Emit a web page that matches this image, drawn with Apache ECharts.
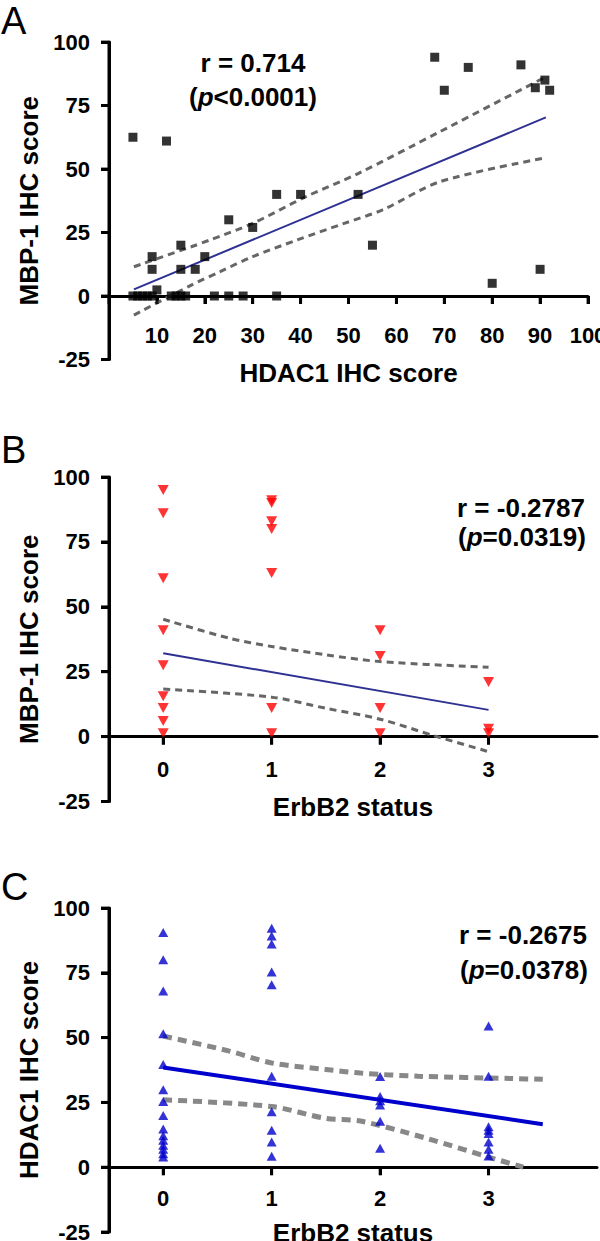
<!DOCTYPE html>
<html><head><meta charset="utf-8">
<script src="https://cdn.jsdelivr.net/npm/echarts@6/dist/echarts.min.js"></script>
<style>html,body{margin:0;padding:0;background:#fff}#c{width:600px;height:1241px}</style>
</head><body><div id="c"></div>
<script>
// ---------- Panel A: HDAC1 vs MBP-1 ----------
const aHdac1 = [68, 70, 75, 86, 91, 89, 92, 5, 12, 35, 40, 52, 25, 30, 15, 55, 9, 20, 9, 15, 18, 80, 90, 10,
                5, 6, 7, 8, 9, 13, 14, 15, 16, 22, 25, 28, 35];
const aMbp1  = [94, 81, 90, 91, 85, 82, 81, 62.5, 61, 40, 40, 40, 30, 27, 20, 20, 15.5, 15.5, 10.5, 10.5, 10.5, 5, 10.5, 2.4,
                0, 0, 0, 0, 0, 0, 0, 0, 0, 0, 0, 0, 0];
const aFitX = [5.2, 91.2];
const aFitY = [2.6, 70.3];
const aUpperX = [5.2, 17.2, 21, 30, 41.1, 52.1, 69.1, 90.6];
const aUpperY = [11.5, 19.4, 22, 28.6, 39.1, 48.3, 64.7, 85.7];
const aLowerX = [5.2, 17.2, 23.2, 30, 39.2, 49.1, 57.1, 69.1, 90.6];
const aLowerY = [-7.5, 4.3, 9.6, 15.5, 22, 28.6, 33.9, 45, 54.2];
const aXTicks = [0, 10, 20, 30, 40, 50, 60, 70, 80, 90, 100];

// ---------- Panel B: ErbB2 vs MBP-1 ----------
const bErb  = [0, 0, 0, 0, 0, 0, 0, 0, 0, 1, 1, 1, 1, 1, 1, 1, 2, 2, 2, 2, 3, 3, 3];
const bMbp1 = [95, 86, 61, 41, 27.5, 15.5, 11, 6, 1.3, 91, 90, 83, 80, 63, 11, 1.3, 41, 31, 11, 1.3, 21, 3, 1.3];
const bFitX = [0, 3];
const bFitY = [32.1, 10.3];
const bUpperX = [0, 0.61, 1, 1.5, 2, 3];
const bUpperY = [45.2, 37.9, 34.7, 31.5, 28.9, 26.7];
const bLowerX = [0, 1, 1.5, 2, 2.5, 3];
const bLowerY = [18.3, 15.2, 10.9, 6.7, 0.3, -5.8];

// ---------- Panel C: ErbB2 vs HDAC1 ----------
const cErb   = [0, 0, 0, 0, 0, 0, 0, 0, 0, 0, 0, 0, 0, 0, 0,
                1, 1, 1, 1, 1, 1, 1, 1, 1, 1,
                2, 2, 2, 2, 2, 2,
                3, 3, 3, 3, 3, 3, 3, 3];
const cHdac1 = [90.5, 80, 68, 51.5, 39.6, 29.9, 25.3, 19.9, 14.7, 12.1, 10.4, 8.5, 6.9, 5.2, 3.9,
                92.2, 89.2, 86.1, 75.3, 70.4, 35.1, 21.4, 14.3, 9.7, 4.2,
                35, 27.3, 25.6, 24, 17.7, 7.3,
                54.5, 35.1, 15.6, 14.3, 13, 9.7, 6.9, 4.3];
const cFitX = [0, 3.5];
const cFitY = [38.5, 16.6];
const cUpperX = [0, 0.61, 1, 1.5, 1.82, 2.35, 3.22, 3.5];
const cUpperY = [50.6, 44.8, 40.2, 37.7, 36.3, 35.1, 34.2, 33.9];
const cLowerX = [0, 1, 1.5, 1.82, 2.44, 3, 3.32];
const cLowerY = [26, 23.4, 18.8, 17.8, 11, 3.9, 0];

// ---------- axes ----------
const erbTicks = [0, 1, 2, 3];
const yTicks = [-25, 0, 25, 50, 75, 100];
const xMins = [0, -0.5, -0.5];
const xMaxs = [100, 4, 4];
const xTickSets = [aXTicks, erbTicks, erbTicks];

const FONT = "'Liberation Sans', Arial, Helvetica, sans-serif";
const zip = (xs, ys) => xs.map((x, i) => [x, ys[i]]);

const grids = [
  {left: 109, top: 42, width: 479, height: 317.5, outerBoundsMode: 'none'},
  {left: 109, top: 477, width: 488, height: 324.5, outerBoundsMode: 'none'},
  {left: 109, top: 908, width: 488, height: 324, outerBoundsMode: 'none'}
];

function yAxis(gi, name, gap) {
  return {type: 'value', gridIndex: gi, min: yTicks[0], max: yTicks[yTicks.length - 1], interval: 25,
    name: name, nameLocation: 'middle', nameGap: gap, nameRotate: 90,
    nameTextStyle: {fontFamily: FONT, fontWeight: 'bold', fontSize: 26, color: '#000'},
    axisLine: {show: true, onZero: false, lineStyle: {color: '#000', width: 3}},
    axisTick: {show: true, length: 8, lineStyle: {color: '#000', width: 3}},
    axisLabel: {fontFamily: FONT, fontWeight: 'bold', fontSize: 22, color: '#000', margin: 19},
    splitLine: {show: false}};
}
function xAxis(gi, name, labels, gap, margin) {
  return {type: 'value', gridIndex: gi, min: xMins[gi], max: xMaxs[gi],
    name: name, nameLocation: 'middle', nameGap: gap,
    nameTextStyle: {fontFamily: FONT, fontWeight: 'bold', fontSize: 26, color: '#000'},
    // axis sits on the y = 0 line
    offset: -grids[gi].height * (0 - yTicks[0]) / (yTicks[yTicks.length - 1] - yTicks[0]),
    axisLine: {show: true, onZero: false, lineStyle: {color: '#000', width: 3}},
    axisTick: {show: true, length: 8, customValues: xTickSets[gi], lineStyle: {color: '#000', width: 3}},
    axisLabel: {fontFamily: FONT, fontWeight: 'bold', fontSize: 22, color: '#000', margin: margin, customValues: labels},
    splitLine: {show: false}};
}
function curve(gi, xs, ys, color, w, dash, smooth, z) {
  return {type: 'line', xAxisIndex: gi, yAxisIndex: gi, data: zip(xs, ys), showSymbol: false, smooth: smooth,
    lineStyle: {color: color, width: w, type: dash}, z: z, silent: true};
}
// axis line and tick marks, also drawn as series on the same scales
function axisMarks(gi) {
  return [
    {type: 'line', xAxisIndex: gi, yAxisIndex: gi, clip: false, silent: true, showSymbol: false, z: 6,
     data: [[xMins[gi], yTicks[0]], [xMins[gi], yTicks[yTicks.length - 1]]],
     lineStyle: {color: '#000', width: 3}},
    {type: 'scatter', xAxisIndex: gi, yAxisIndex: gi, clip: false, silent: true, z: 6,
     data: yTicks.map(v => [xMins[gi], v]), symbol: 'rect', symbolSize: [8, 3], symbolOffset: [-4, 0],
     itemStyle: {color: '#000'}},
    {type: 'scatter', xAxisIndex: gi, yAxisIndex: gi, clip: false, silent: true, z: 6,
     data: xTickSets[gi].map(v => [v, 0]), symbol: 'rect', symbolSize: [3, 8], symbolOffset: [0, 4],
     itemStyle: {color: '#000'}}
  ];
}

const series = [
  curve(0, aUpperX, aUpperY, '#666', 3, [7, 5], 0.3, 2),
  curve(0, aLowerX, aLowerY, '#666', 3, [7, 5], 0.3, 2),
  curve(0, aFitX, aFitY, '#2E3192', 2, 'solid', false, 3),
  {type: 'scatter', xAxisIndex: 0, yAxisIndex: 0, data: zip(aHdac1, aMbp1), symbol: 'rect', symbolSize: 9,
   itemStyle: {color: '#000'}, z: 4},
  curve(1, bUpperX, bUpperY, '#666', 3, [7, 5], 0.3, 2),
  curve(1, bLowerX, bLowerY, '#666', 3, [7, 5], 0.3, 2),
  curve(1, bFitX, bFitY, '#2E3192', 2, 'solid', false, 3),
  {type: 'scatter', xAxisIndex: 1, yAxisIndex: 1, data: zip(bErb, bMbp1), symbol: 'triangle', symbolRotate: 180,
   symbolSize: [11, 10], itemStyle: {color: '#FF0000'}, z: 4},
  curve(2, cUpperX, cUpperY, '#888', 5, [9, 6], 0.3, 2),
  curve(2, cLowerX, cLowerY, '#888', 5, [9, 6], 0.3, 2),
  {type: 'scatter', xAxisIndex: 2, yAxisIndex: 2, data: zip(cErb, cHdac1), symbol: 'triangle',
   symbolSize: [10, 9], itemStyle: {color: '#0000CC'}, z: 3},
  curve(2, cFitX, cFitY, '#0000CC', 4, 'solid', false, 4)
].concat(axisMarks(0), axisMarks(1), axisMarks(2));

const T = (t, x, y, f, al) => ({type: 'text', silent: true, style: {text: t, x: x, y: y, font: f, fill: '#000', align: al,
  verticalAlign: 'middle', rich: {i: {font: 'italic ' + f, fill: '#000'}}}});

const chart = echarts.init(document.getElementById('c'), null, {renderer: 'svg'});
chart.setOption({
  animation: false,
  grid: grids,
  xAxis: [xAxis(0, 'HDAC1 IHC score', aXTicks.slice(1), 64, 28),
          xAxis(1, 'ErbB2 status', erbTicks, 57, 22),
          xAxis(2, 'ErbB2 status', erbTicks, 53, 20)],
  yAxis: [yAxis(0, 'MBP-1 IHC score', 59), yAxis(1, 'MBP-1 IHC score', 59), yAxis(2, 'HDAC1 IHC score', 57)],
  series: series,
  graphic: [
    T('A', 1, 21, '38px ' + FONT, 'left'),
    T('B', 1, 450, '38px ' + FONT, 'left'),
    T('C', 1, 887, '38px ' + FONT, 'left'),
    T('r = 0.714', 253, 63, 'bold 26px ' + FONT, 'center'),
    T('({i|p}<0.0001)', 253, 97, 'bold 26px ' + FONT, 'center'),
    T('r = -0.2787', 521, 508, 'bold 26px ' + FONT, 'center'),
    T('({i|p}=0.0319)', 522, 537, 'bold 26px ' + FONT, 'center'),
    T('r = -0.2675', 523, 935, 'bold 26px ' + FONT, 'center'),
    T('({i|p}=0.0378)', 524, 970, 'bold 26px ' + FONT, 'center')
  ]
});
</script></body></html>
